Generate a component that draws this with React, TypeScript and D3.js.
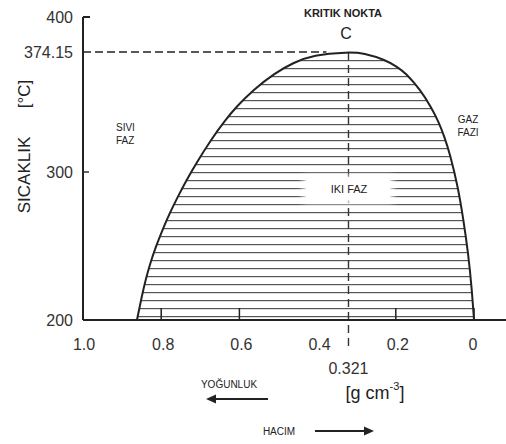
import React from "react";
import * as d3 from "d3";

// Coexistence (saturation) curve of water
const outlineT = [200, 215.5, 227, 238.5, 249.3, 260.8, 272.3, 283.1, 294.6, 305.6, 319.8, 332.1, 340.2, 350.7, 361.2, 367.4, 372.3, 374.15, 373.5, 369.2, 364.9, 361.2, 350.7, 340.2, 330.3, 321.8, 311.7, 289.9, 267.6, 245.3, 222.3, 200];
const outlineD = [0.862, 0.850, 0.840, 0.828, 0.814, 0.797, 0.778, 0.758, 0.735, 0.710, 0.673, 0.636, 0.608, 0.565, 0.509, 0.463, 0.412, 0.321, 0.282, 0.226, 0.196, 0.175, 0.137, 0.110, 0.089, 0.076, 0.062, 0.041, 0.027, 0.015, 0.006, 0.0];

const criticalT = 374.15;
const criticalD = 0.321;

const yTicks = [400, 374.15, 300, 200];
const yTickLabels = ["400", "374.15", "300", "200"];
const xTickValues = [1.0, 0.8, 0.6, 0.4, 0.2, 0];
const xTickLabels = ["1.0", "0.8", "0.6", "0.4", "0.2", "0"];
const xTickMarks = [0.8, 0.6, 0.2, 0];

const FONT = "'Liberation Sans', Arial, sans-serif";

export default function App() {
  const W = 506, H = 444;
  const x = d3.scaleLinear().domain([1, 0]).range([83, 474]);
  const y = d3.scaleLinear().domain([200, 300, 374.15, 400]).range([320, 172, 52, 17]);

  const pts: [number, number][] = outlineT.map((t, i) => [x(outlineD[i]), y(t)]);
  const line = d3.line().curve(d3.curveBasis);
  const outlinePath = line(pts) || "";
  const clipPath = outlinePath + "Z";

  const xAxisY = y(200);
  const yAxisX = x(1);

  return (
    <svg width={W} height={H} style={{ position: "absolute", left: 0, top: 0, background: "#fff" }} fontFamily={FONT}>
      <defs>
        <pattern id="tie" patternUnits="userSpaceOnUse" width={W} height={8} x={0} y={0}>
          <rect x={0} y={4} width={W} height={1.2} fill="#555" />
        </pattern>
        <clipPath id="dome">
          <path d={clipPath} />
        </clipPath>
        <filter id="soft" x="-20%" y="-40%" width="140%" height="180%">
          <feGaussianBlur stdDeviation="3" />
        </filter>
      </defs>
      <rect x={0} y={0} width={W} height={H} fill="#fff" />

      {/* tie lines */}
      <rect x={0} y={0} width={W} height={xAxisY - 2} fill="url(#tie)" clipPath="url(#dome)" />

      {/* critical point dashed guides */}
      <line x1={yAxisX} x2={x(criticalD) - 22} y1={y(criticalT)} y2={y(criticalT)} stroke="#222" strokeWidth={1.6} strokeDasharray="8 4" />
      <line x1={x(criticalD)} x2={x(criticalD)} y1={y(criticalT)} y2={xAxisY + 28} stroke="#333" strokeWidth={1.4} strokeDasharray="8 5" />

      {/* white area behind IKI FAZ */}
      <rect x={303} y={176} width={90} height={27} fill="#fff" filter="url(#soft)" />
      <rect x={306} y={179} width={84} height={21} fill="#fff" />

      {/* curve */}
      <path d={outlinePath} fill="none" stroke="#222" strokeWidth={2} />

      {/* axes */}
      <line x1={yAxisX} x2={yAxisX} y1={y(400)} y2={xAxisY} stroke="#222" strokeWidth={2} />
      <line x1={yAxisX} x2={yAxisX + 7} y1={y(400)} y2={y(400)} stroke="#222" strokeWidth={2} />
      <line x1={yAxisX} x2={yAxisX + 6} y1={y(300)} y2={y(300)} stroke="#333" strokeWidth={1.5} />
      <line x1={yAxisX} x2={W} y1={xAxisY} y2={xAxisY} stroke="#222" strokeWidth={2} />
      {xTickMarks.map((v) => (
        <line key={v} x1={x(v)} x2={x(v)} y1={xAxisY} y2={xAxisY - 12} stroke="#222" strokeWidth={1.5} />
      ))}

      {yTicks.map((v, i) => (
        <text key={v} x={73} y={y(v)} textAnchor="end" dominantBaseline="central" fontSize={16} fill="#333">
          {yTickLabels[i]}
        </text>
      ))}
      {xTickValues.map((v, i) => (
        <text key={v} x={x(v) + (v === 1 ? 1 : v === 0 ? -1 : 2)} y={344} textAnchor="middle" dominantBaseline="central" fontSize={16} fill="#333">
          {xTickLabels[i]}
        </text>
      ))}
      <text x={x(criticalD)} y={368} textAnchor="middle" dominantBaseline="central" fontSize={16} fill="#333">0.321</text>

      {/* axis titles */}
      <text transform="translate(24,175) rotate(-90)" textAnchor="middle" dominantBaseline="central" fontSize={17} fill="#222">SICAKLIK</text>
      <text transform="translate(24,94) rotate(-90)" textAnchor="middle" dominantBaseline="central" fontSize={17} fill="#222">[°C]</text>

      <text x={375} y={393} textAnchor="middle" dominantBaseline="central" fontSize={18} fill="#222">
        [g cm<tspan dy={-7} fontSize={11}>-3</tspan><tspan dy={7}>]</tspan>
      </text>

      {/* labels */}
      <text x={343} y={13} textAnchor="middle" dominantBaseline="central" fontSize={11} fill="#222" fontWeight="bold">KRITIK NOKTA</text>
      <text x={346} y={33} textAnchor="middle" dominantBaseline="central" fontSize={16} fill="#222">C</text>
      <text x={116} y={127} dominantBaseline="central" fontSize={10} fill="#222">SIVI</text>
      <text x={116} y={140} dominantBaseline="central" fontSize={10} fill="#222">FAZ</text>
      <text x={468} y={119} textAnchor="middle" dominantBaseline="central" fontSize={10} fill="#222">GAZ</text>
      <text x={468} y={132} textAnchor="middle" dominantBaseline="central" fontSize={10} fill="#222">FAZI</text>
      <text x={349} y={189} textAnchor="middle" dominantBaseline="central" fontSize={11} fill="#222">IKI FAZ</text>

      <text x={229} y={384} textAnchor="middle" dominantBaseline="central" fontSize={10} fill="#222">YOĞUNLUK</text>
      <line x1={268} x2={214} y1={399} y2={399} stroke="#222" strokeWidth={2.2} />
      <path d="M206,399 L216,394.5 L216,403.5 Z" fill="#222" />

      <text x={279} y={431} textAnchor="middle" dominantBaseline="central" fontSize={10} fill="#222">HACIM</text>
      <line x1={315} x2={366} y1={431} y2={431} stroke="#222" strokeWidth={2.2} />
      <path d="M374,431 L364,426.5 L364,435.5 Z" fill="#222" />
    </svg>
  );
}
